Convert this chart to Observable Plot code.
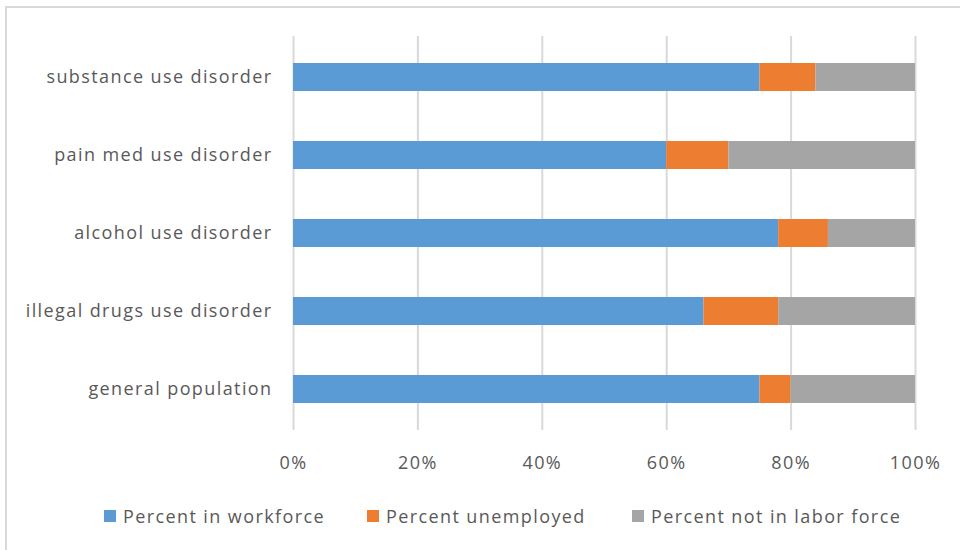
<!DOCTYPE html>
<html>
<head>
<meta charset="utf-8">
<script src="https://cdn.jsdelivr.net/npm/d3@7"></script>
<script src="https://cdn.jsdelivr.net/npm/@observablehq/plot@0.6"></script>
<style>
  html, body { margin: 0; padding: 0; background: #fff; }
  #wrap { position: relative; width: 960px; height: 550px; overflow: hidden; font-family: "Open Sans", sans-serif; }
  #frame { position: absolute; left: 5px; top: 6px; width: 1000px; height: 600px; border-top: 2px solid #d9d9d9; border-left: 2px solid #d9d9d9; box-sizing: border-box; }
  #chart { position: absolute; left: 0; top: 0; }
  #legend { position: absolute; left: 0; top: 502px; width: 960px; height: 28px; font-size: 18px; letter-spacing: 1.4px; color: #595959; }
  .item { position: absolute; top: 0; display: flex; align-items: center; height: 28px; white-space: nowrap; }
  .sw { width: 12px; height: 12px; margin-right: 7px; }
</style>
</head>
<body>
<div id="wrap">
  <div id="frame"></div>
  <div id="chart"></div>
  <div id="legend"></div>
</div>
<script>
const categories = ["substance use disorder", "pain med use disorder", "alcohol use disorder", "illegal drugs use disorder", "general population"];
const seriesNames = ["Percent in workforce", "Percent unemployed", "Percent not in labor force"];
const workforce = [75, 60, 78, 66, 75];
const unemployed = [9, 10, 8, 12, 5];
const notInLabor = [16, 30, 14, 22, 20];
const xTicks = [0, 20, 40, 60, 80, 100];
const colors = ["#5B9BD5", "#ED7D31", "#A5A5A5"];

const seriesValues = [workforce, unemployed, notInLabor];
const data = [];
categories.forEach((c, i) => {
  seriesNames.forEach((s, j) => data.push({category: c, series: s, value: seriesValues[j][i]}));
});

const plot = Plot.plot({
  width: 960,
  height: 490,
  marginLeft: 293,
  marginRight: 45,
  marginTop: 36,
  marginBottom: 60,
  style: {fontFamily: "'Open Sans', sans-serif", fontSize: "18px", letterSpacing: "1.4px", color: "#595959", background: "transparent"},
  x: {domain: [0, 100], ticks: xTicks, tickFormat: d => d + "%", label: null, tickSize: 0, tickPadding: 26},
  y: {domain: categories, paddingInner: 0.645, paddingOuter: 0.3225, label: null, tickSize: 0, tickPadding: 21},
  color: {domain: seriesNames, range: colors},
  marks: [
    Plot.gridX(xTicks, {stroke: "#d9d9d9", strokeOpacity: 1, strokeWidth: 2}),
    Plot.barX(data, Plot.stackX({y: "category", x: "value", fill: "series"})),
    Plot.axisX({ticks: xTicks, tickFormat: d => d + "%", tickSize: 0, tickPadding: 26, label: null}),
    Plot.axisY({tickSize: 0, tickPadding: 21, label: null})
  ]
});
document.getElementById("chart").appendChild(plot);

const legend = document.getElementById("legend");
const lefts = [104, 367, 632];
seriesNames.forEach((s, i) => {
  const item = document.createElement("div");
  item.className = "item";
  item.style.left = lefts[i] + "px";
  const sw = document.createElement("span");
  sw.className = "sw";
  sw.style.background = colors[i];
  const t = document.createElement("span");
  t.textContent = s;
  item.appendChild(sw);
  item.appendChild(t);
  legend.appendChild(item);
});
</script>
</body>
</html>
